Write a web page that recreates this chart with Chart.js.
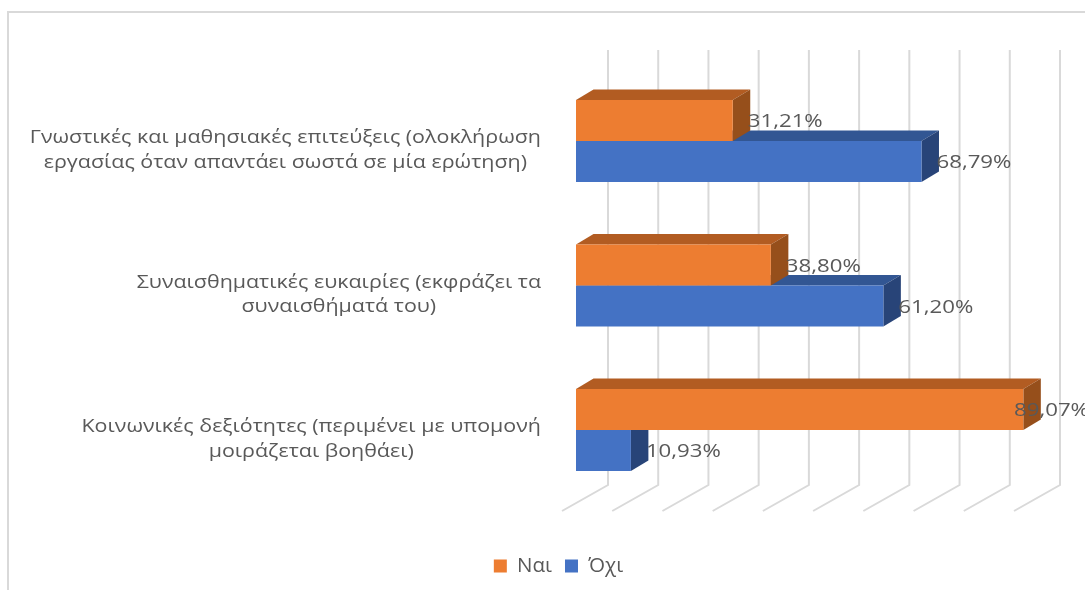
<!DOCTYPE html>
<html>
<head>
<meta charset="utf-8">
<style>
  html, body { margin: 0; padding: 0; background: #fff; }
</style>
<script src="https://cdn.jsdelivr.net/npm/chart.js@4"></script>
</head>
<body>
<canvas id="chart" width="1085" height="590"></canvas>
<script>
const categories = [
  ["Γνωστικές και μαθησιακές επιτεύξεις (ολοκλήρωση", "εργασίας όταν απαντάει σωστά σε μία ερώτηση)"],
  ["Συναισθηματικές ευκαιρίες (εκφράζει τα", "συναισθήματά του)"],
  ["Κοινωνικές δεξιότητες (περιμένει με υπομονή", "μοιράζεται βοηθάει)"]
]
const yesValues = [31.21, 38.80, 89.07]
const noValues = [68.79, 61.20, 10.93]
const gridValues = [0, 10, 20, 30, 40, 50, 60, 70, 80, 90]

const textColor = "#595959"
const gridColor = "#d9d9d9"
const fontFamily = "'Open Sans'"

// fake 3D: depth of the bars and of the back wall, in px
const barDepth = { x: 17.5, y: 10.5 }

const shades = {
  "#ed7d31": { top: "#b25c22", side: "#964f1b" },
  "#4472c4": { top: "#325693", side: "#284478" }
}

const stretchedText = (ctx, text, x, y, sx) => {
  ctx.save()
  ctx.translate(x, y)
  ctx.scale(sx, 1)
  ctx.fillText(text, 0, 0)
  ctx.restore()
}

const frame3d = {
  id: "frame3d",
  beforeDraw(chart) {
    const ctx = chart.ctx
    const x = chart.scales.x
    ctx.save()
    // outer border, only top and left show
    ctx.strokeStyle = gridColor
    ctx.lineWidth = 2
    ctx.beginPath()
    ctx.moveTo(8, 590)
    ctx.lineTo(8, 12)
    ctx.lineTo(1085, 12)
    ctx.stroke()
    // back wall and floor lines
    gridValues.forEach(v => {
      const px = x.getPixelForValue(v)
      ctx.beginPath()
      ctx.moveTo(px + 32, 50)
      ctx.lineTo(px + 32, 485)
      ctx.lineTo(px - 14, 511)
      ctx.stroke()
    })
    ctx.restore()
  },
  beforeDatasetDraw(chart, args) {
    const ctx = chart.ctx
    const color = chart.data.datasets[args.index].backgroundColor
    ctx.save()
    args.meta.data.forEach(bar => {
      const left = bar.base
      const right = bar.x
      const top = bar.y - bar.height / 2
      const bottom = bar.y + bar.height / 2
      ctx.fillStyle = shades[color].top
      ctx.beginPath()
      ctx.moveTo(left, top)
      ctx.lineTo(left + barDepth.x, top - barDepth.y)
      ctx.lineTo(right + barDepth.x, top - barDepth.y)
      ctx.lineTo(right, top)
      ctx.fill()
      ctx.fillStyle = shades[color].side
      ctx.beginPath()
      ctx.moveTo(right, top)
      ctx.lineTo(right + barDepth.x, top - barDepth.y)
      ctx.lineTo(right + barDepth.x, bottom - barDepth.y)
      ctx.lineTo(right, bottom)
      ctx.fill()
    })
    ctx.restore()
  },
  afterDraw(chart) {
    const ctx = chart.ctx
    const y = chart.scales.y
    ctx.save()
    ctx.fillStyle = textColor
    // category labels: lines centred on each other, block flush right
    ctx.font = "17.5px " + fontFamily
    ctx.textBaseline = "middle"
    ctx.textAlign = "center"
    const sx = 1.225
    categories.forEach((lines, i) => {
      const w = Math.max(...lines.map(l => ctx.measureText(l).width)) * sx
      const cy = y.getPixelForValue(i) + 9.5
      lines.forEach((line, k) => {
        stretchedText(ctx, line, 541 - w / 2, cy + (k - 0.5) * 24.5, sx)
      })
    })
    // value labels
    ctx.font = "18px " + fontFamily
    ctx.textAlign = "left"
    const labelSx = 1.235
    chart.data.datasets.forEach((ds, d) => {
      chart.getDatasetMeta(d).data.forEach((bar, i) => {
        const text = ds.data[i].toFixed(2).replace(".", ",") + "%"
        const lx = Math.min(bar.x + 15, chart.width - 71)
        stretchedText(ctx, text, lx, bar.y + 1.5, labelSx)
      })
    })
    ctx.restore()
  }
}

new Chart("chart", {
  type: "bar",
  data: {
    labels: categories,
    datasets: [
      { label: "Ναι", data: yesValues, backgroundColor: "#ed7d31" },
      { label: "Όχι", data: noValues, backgroundColor: "#4472c4" }
    ]
  },
  options: {
    indexAxis: "y",
    responsive: false,
    animation: false,
    layout: { padding: { left: 89, right: 57, top: 68.75, bottom: 3.75 } },
    datasets: { bar: { categoryPercentage: 0.567, barPercentage: 1 } },
    scales: {
      x: {
        min: 0, max: 90,
        grid: { display: false }, border: { display: false },
        ticks: { display: false },
        afterFit: s => { s.height = 40.5 }
      },
      y: {
        grid: { display: false }, border: { display: false },
        ticks: { display: false },
        afterFit: s => { s.width = 487 }
      }
    },
    plugins: {
      tooltip: { enabled: false },
      legend: {
        position: "bottom",
        labels: {
          boxWidth: 13, boxHeight: 13, padding: 13,
          color: textColor,
          font: { family: fontFamily, size: 20.5 }
        }
      }
    }
  },
  plugins: [frame3d]
})
</script>
</body>
</html>
